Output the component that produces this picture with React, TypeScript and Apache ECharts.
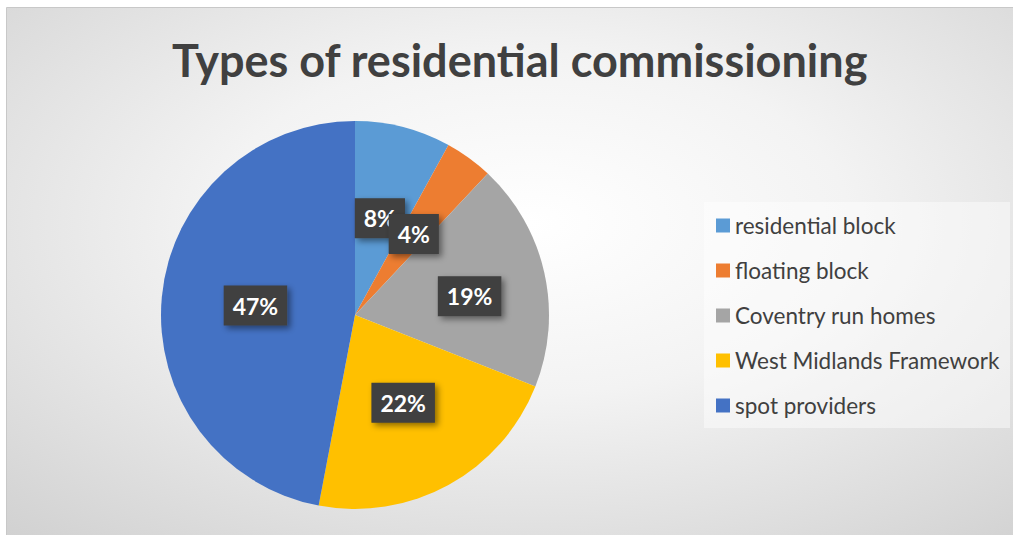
import React, { useEffect, useRef } from "react";
import * as echarts from "echarts";

const categories = [
  "residential block",
  "floating block",
  "Coventry run homes",
  "West Midlands Framework",
  "spot providers",
];
const values = [8, 4, 19, 22, 47];
const colors = ["#5b9bd5", "#ed7d31", "#a5a5a5", "#ffc000", "#4472c4"];
const titleText = "Types of residential commissioning";

export default function App() {
  const ref = useRef<HTMLDivElement>(null);
  useEffect(() => {
    document.body.style.margin = "0";
    const chart = echarts.init(ref.current!, null, { renderer: "svg" });
    const labelOffsets: Record<number, number[]> = { 2: [17, 3] };
    chart.setOption({
      animation: false,
      title: {
        text: titleText,
        left: 167,
        top: 32,
        textStyle: {
          fontFamily: "Lato",
          fontWeight: "bold",
          fontSize: 45,
          color: "#404040",
        },
      },
      graphic: [
        {
          type: "rect",
          z: -10,
          silent: true,
          shape: { x: 6.5, y: 7.5, width: 1010, height: 540 },
          style: {
            fill: {
              type: "radial",
              x: 0.52,
              y: 0.4,
              r: 1.05,
              colorStops: [
                { offset: 0, color: "#ffffff" },
                { offset: 0.3, color: "#f3f3f3" },
                { offset: 1, color: "#bdbdbd" },
              ],
            },
            stroke: "#c8c8c8",
            lineWidth: 1,
          },
        },
        {
          type: "rect",
          z: -5,
          silent: true,
          shape: { x: 704, y: 202, width: 306, height: 226 },
          style: { fill: "rgba(255,255,255,0.45)" },
        },
      ],
      legend: {
        orient: "vertical",
        left: 704,
        top: 202,
        padding: [12, 12, 12, 12],
        itemGap: 22,
        itemWidth: 14,
        itemHeight: 14,
        icon: "rect",
        data: categories,
        textStyle: {
          fontFamily: "Lato",
          fontSize: 22.5,
          color: "#404040",
          lineHeight: 22,
        },
      },
      series: [
        {
          type: "pie",
          center: [355, 315],
          radius: 194,
          startAngle: 90,
          clockwise: true,
          avoidLabelOverlap: false,
          labelLayout: { hideOverlap: false },
          data: categories.map((name, i) => ({
            name,
            value: values[i],
            itemStyle: { color: colors[i] },
            label: labelOffsets[i] ? { offset: labelOffsets[i] } : undefined,
          })),
          label: {
            show: true,
            position: "inside",
            formatter: "{d}%",
            fontFamily: "Lato",
            fontWeight: "bold",
            fontSize: 23,
            lineHeight: 24,
            color: "#ffffff",
            backgroundColor: "#3f3f3f",
            padding: [8, 9],
            shadowColor: "rgba(0,0,0,0.45)",
            shadowBlur: 6,
            shadowOffsetX: 3,
            shadowOffsetY: 3,
          },
          labelLine: { show: false },
          emphasis: { disabled: true },
        },
      ],
    });
    return () => chart.dispose();
  }, []);
  return <div ref={ref} style={{ width: 1013, height: 535 }} />;
}
